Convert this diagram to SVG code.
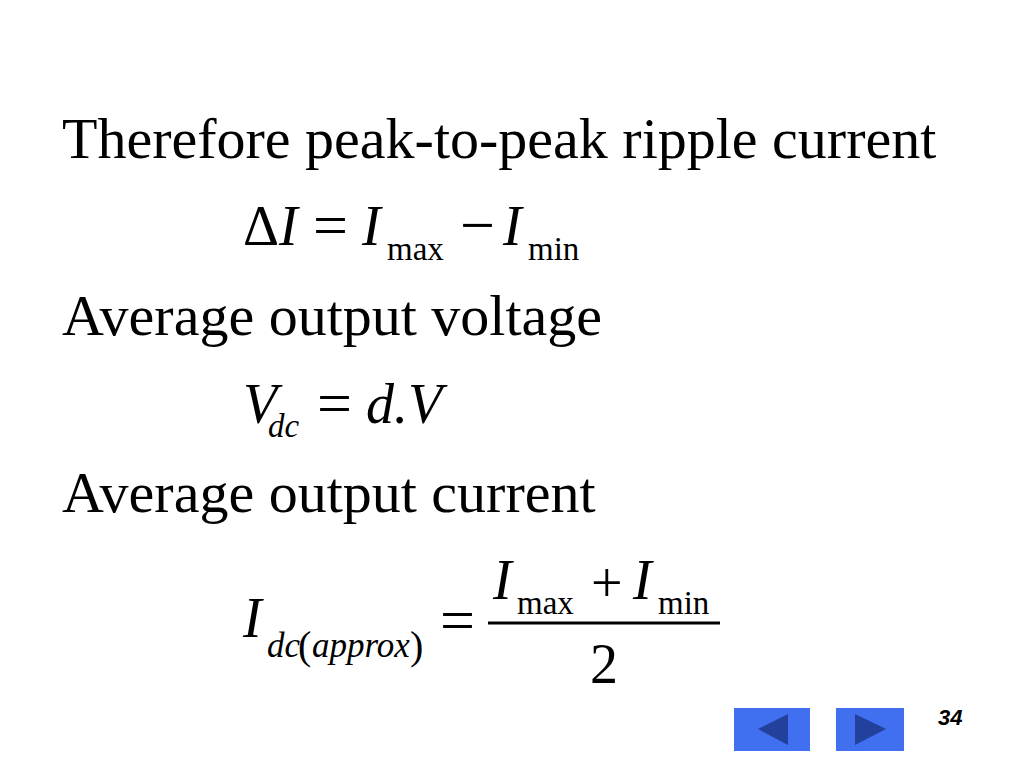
<svg xmlns="http://www.w3.org/2000/svg" width="1024" height="768" viewBox="0 0 1024 768">
<style>
.t{font-family:"Liberation Serif","Times New Roman",serif;fill:#000}
.m{font-size:58px}
.b{font-size:56px}
.op{font-size:62px}
.s{font-size:33px}
.s2{font-size:35px}
.i{font-style:italic}
.btn{fill:#4070f0}
.tri{fill:#22409c}
</style>
<rect width="1024" height="768" fill="#fff"/>
<g id="line1"><text class="t m" x="62" y="158">Therefore peak-to-peak ripple current</text></g>
<g id="eq1">
<text class="t b" x="243" y="245">Δ<tspan class="i">I</tspan></text>
<text class="t op" x="313" y="246">=</text>
<text class="t b i" x="362" y="245">I</text>
<text class="t s" x="387" y="260">max</text>
<text class="t op" x="460" y="246">−</text>
<text class="t b i" x="503" y="245">I</text>
<text class="t s" x="528" y="260">min</text>
</g>
<g id="line2"><text class="t m" x="62" y="335">Average output voltage</text></g>
<g id="eq2">
<text class="t b i" x="243" y="423">V<tspan class="s" x="268" y="437">dc</tspan></text>
<text class="t op" x="317" y="424">=</text>
<text class="t b i" x="366" y="423">d.V</text>
</g>
<g id="line3"><text class="t m" x="62" y="512">Average output current</text></g>
<g id="eq3">
<text class="t b i" x="243" y="637">I</text>
<text class="t s2 i" x="267" y="657">dc</text>
<text class="t" font-size="40" x="298" y="659">(</text>
<text class="t s2 i" x="312" y="657">approx</text>
<text class="t" font-size="40" x="410" y="659">)</text>
<text class="t op" x="440" y="641">=</text>
<rect x="488" y="621.5" width="232" height="3" fill="#000"/>
<text class="t b i" x="493" y="599">I</text>
<text class="t s" x="517" y="614">max</text>
<text class="t b" x="591" y="602">+</text>
<text class="t b i" x="633" y="599">I</text>
<text class="t s" x="658" y="614">min</text>
<text class="t b" x="590" y="683">2</text>
</g>
<g id="nav-prev">
<rect class="btn" x="734" y="708" width="76" height="43"/>
<polygon class="tri" points="758,729 788,714 788,745"/>
</g>
<g id="nav-next">
<rect class="btn" x="836" y="708" width="68" height="43"/>
<polygon class="tri" points="855,714 886,729 855,745"/>
</g>
<g id="page-number"><text x="938" y="725" font-family="Liberation Sans, Arial, sans-serif" font-size="22" font-weight="bold" font-style="italic" fill="#000">34</text></g>
</svg>
